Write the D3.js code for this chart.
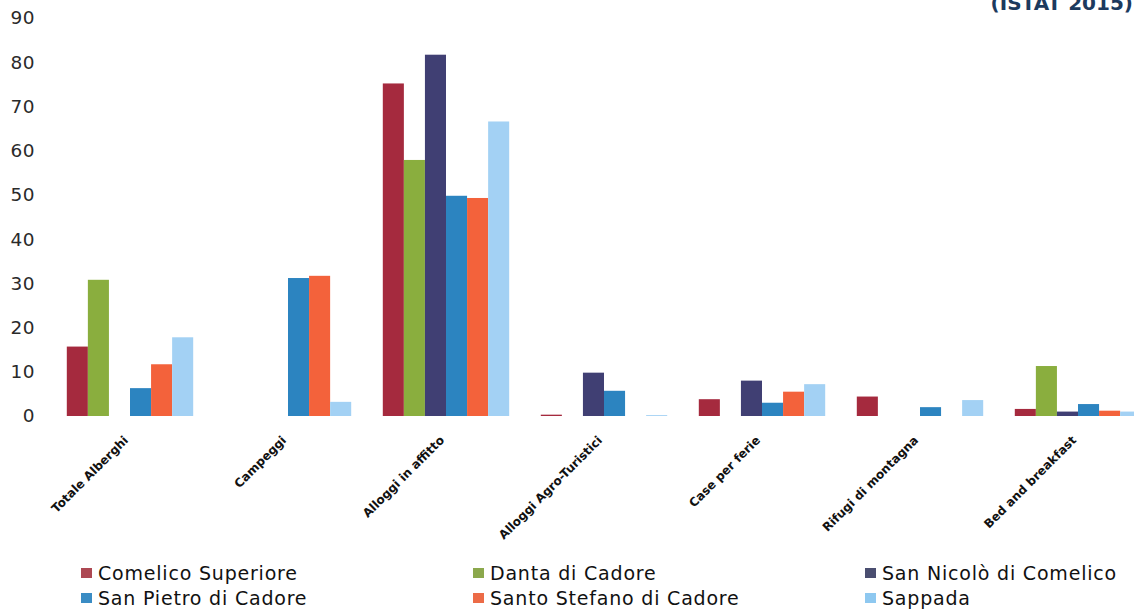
<!DOCTYPE html>
<html>
<head>
<meta charset="utf-8">
<script src="https://cdn.jsdelivr.net/npm/d3@7"></script>
<style>
  html, body { margin: 0; padding: 0; background: #fff; overflow: hidden; }
  svg { display: block; }
</style>
</head>
<body>
<svg id="chart" width="1134" height="609"></svg>
<script>
const categories = ["Totale Alberghi", "Campeggi", "Alloggi in affitto", "Alloggi Agro-Turistici", "Case per ferie", "Rifugi di montagna", "Bed and breakfast"];
const seriesNames = ["Comelico Superiore", "Danta di Cadore", "San Nicolò di Comelico", "San Pietro di Cadore", "Santo Stefano di Cadore", "Sappada"];
const comelicoSuperiore = [15.7, 0, 75.2, 0.3, 3.8, 4.4, 1.6];
const dantaDiCadore     = [30.8, 0, 57.9, 0, 0, 0, 11.3];
const sanNicolo         = [0, 0, 81.7, 9.8, 8.0, 0, 1.0];
const sanPietro         = [6.3, 31.2, 49.8, 5.7, 3.0, 2.0, 2.7];
const santoStefano      = [11.7, 31.7, 49.3, 0, 5.5, 0, 1.2];
const sappada           = [17.8, 3.2, 66.6, 0.2, 7.2, 3.6, 1.0];
const yTicks = [0, 10, 20, 30, 40, 50, 60, 70, 80, 90];
const colors = ["#a52a3e", "#8aae3e", "#403f73", "#2c84c0", "#f3623b", "#a3d1f4"];
const legendColors = ["#ad4853", "#8ba84c", "#4a4e70", "#3a8cc4", "#ec6b47", "#8ec8f0"];
const titleText = "(ISTAT 2015)";

const values = [comelicoSuperiore, dantaDiCadore, sanNicolo, sanPietro, santoStefano, sappada];

const svg = d3.select("#chart");

const x0 = d3.scaleBand().domain(categories).range([51, 1157]).paddingInner(0.2).paddingOuter(0.1);
const x1 = d3.scaleBand().domain(seriesNames).range([0, x0.bandwidth()]);
const y = d3.scaleLinear().domain([0, 90]).range([416, 18]);

// bars
const groups = svg.append("g").selectAll("g")
  .data(categories)
  .join("g")
  .attr("transform", d => `translate(${x0(d)},0)`);

groups.selectAll("rect")
  .data((c, i) => seriesNames.map((s, j) => ({ s, j, v: values[j][i] })))
  .join("rect")
  .filter(d => d.v > 0)
  .attr("x", d => x1(d.s))
  .attr("width", x1.bandwidth())
  .attr("y", d => y(d.v))
  .attr("height", d => y(0) - y(d.v))
  .attr("fill", d => colors[d.j]);

// y axis
const yAxis = d3.axisLeft(y).tickValues(yTicks).tickSize(0).tickPadding(0);
const gy = svg.append("g").attr("transform", "translate(35,0)").call(yAxis);
gy.select(".domain").remove();
gy.selectAll("text")
  .attr("font-family", "DejaVu Sans, Verdana, sans-serif")
  .attr("font-size", 18.5)
  .attr("letter-spacing", 0.5)
  .attr("fill", "#2a2a2a");

// x axis labels
const xAxis = d3.axisBottom(x0).tickSize(0).tickPadding(0);
const gx = svg.append("g").attr("transform", "translate(0,438)").call(xAxis);
gx.select(".domain").remove();
gx.selectAll("text")
  .attr("font-family", "DejaVu Sans, Arial, sans-serif")
  .attr("font-size", 12)
  .attr("font-weight", "bold")
  .attr("fill", "#111")
  .attr("text-anchor", "end")
  .attr("dy", "0.35em")
  .attr("transform", "translate(-4,0) rotate(-45)");

// legend
const legendPos = [
  { x: 81, y: 580 }, { x: 473, y: 580 }, { x: 865, y: 580 },
  { x: 81, y: 605 }, { x: 473, y: 605 }, { x: 865, y: 605 }
];
const legend = svg.append("g").selectAll("g")
  .data(seriesNames)
  .join("g")
  .attr("transform", (d, i) => `translate(${legendPos[i].x},${legendPos[i].y})`);
legend.append("rect")
  .attr("x", 0).attr("y", -12).attr("width", 11).attr("height", 10)
  .attr("fill", (d, i) => legendColors[i]);
legend.append("text")
  .attr("x", 17).attr("y", 0)
  .attr("font-family", "DejaVu Sans, Verdana, sans-serif")
  .attr("font-size", 19)
  .attr("letter-spacing", 0.8)
  .attr("fill", "#111")
  .text(d => d);

// title (cropped at the top)
svg.append("text")
  .attr("x", 1133).attr("y", 10)
  .attr("text-anchor", "end")
  .attr("font-family", "DejaVu Sans, Verdana, sans-serif")
  .attr("font-weight", "bold")
  .attr("font-size", 20)
  .attr("fill", "#1c3a5e")
  .text(titleText);
</script>
</body>
</html>
